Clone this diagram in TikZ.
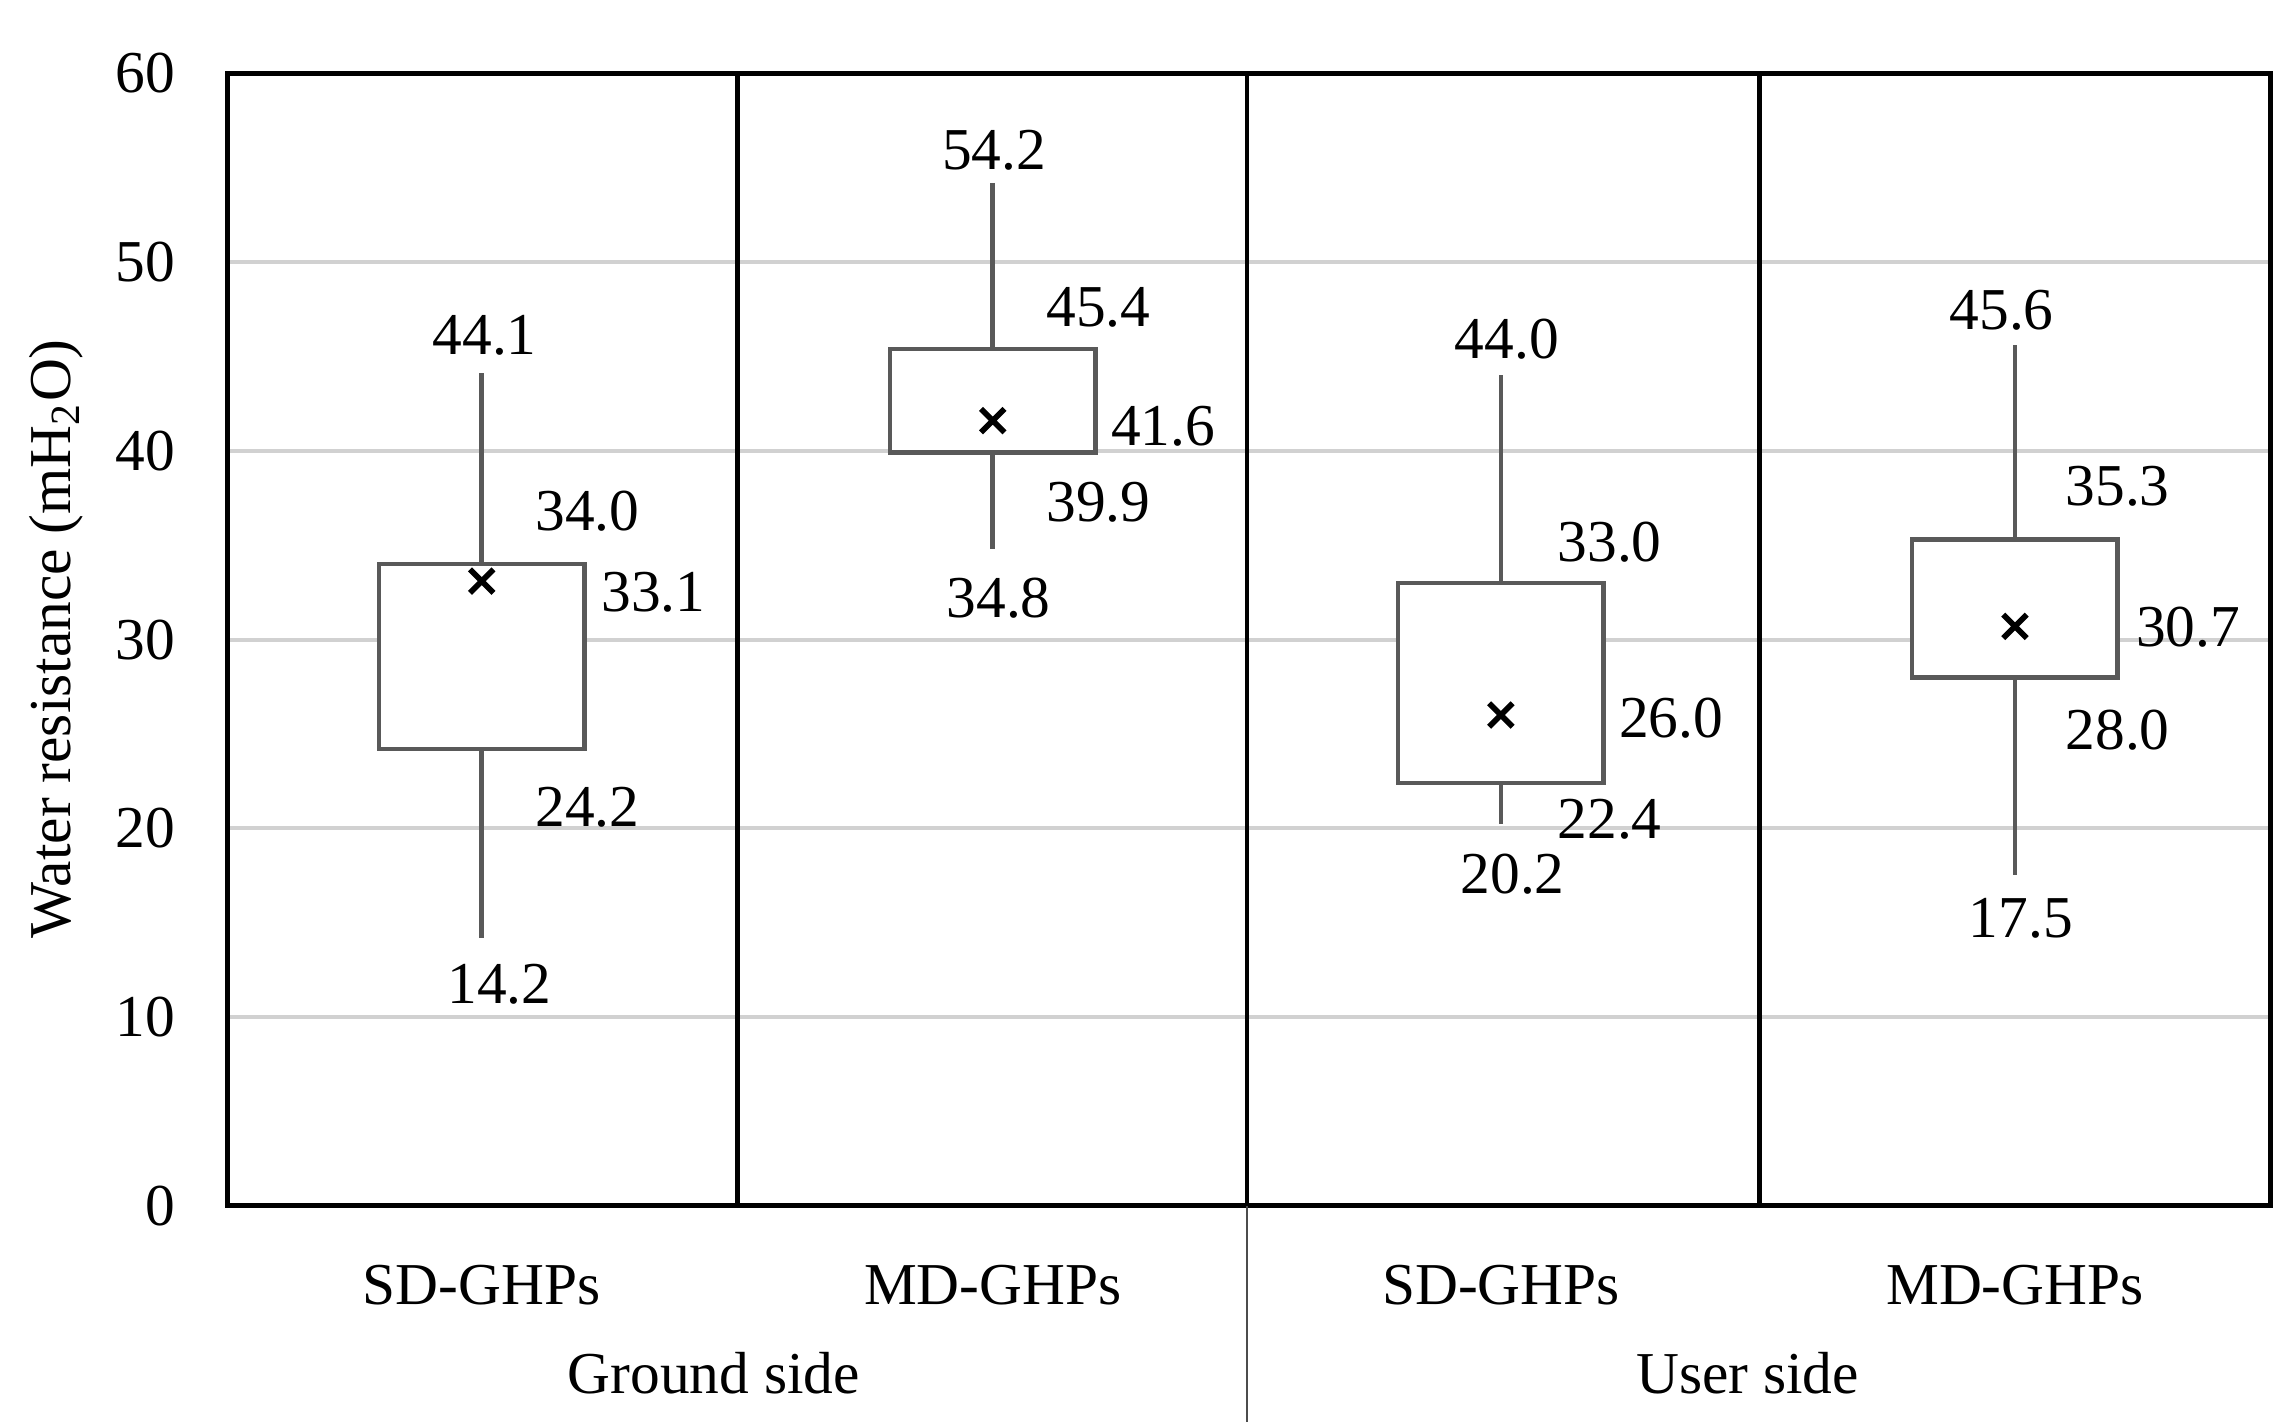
\documentclass[tikz,border=0pt]{standalone}
\usepackage{fontspec}
\setmainfont{Liberation Serif}
\begin{document}
\begin{tikzpicture}[x=0.01cm,y=-0.01cm,
  lbl/.style={font=\fontsize{11.5}{12}\selectfont,inner sep=0pt},
  boxs/.style={draw=black!65,line width=0.9pt,fill=white},
  whisk/.style={draw=black!65,line width=0.9pt},
  grid/.style={draw=black!18,line width=0.8pt},
  mean/.style={line width=1.1pt}]
\useasboundingbox (0,0) rectangle (1560,970);
% grid
\foreach \y in {178.5,307,435.5,564,692.5} \draw[grid] (155,\y) -- (1546,\y);
% frame
\draw[line width=0.9pt] (155,50) rectangle (1546,821);
\foreach \x in {502,1198} \draw[line width=0.9pt] (\x,50) -- (\x,821);
\draw[line width=0.9pt] (849,50) -- (849,821);
\draw[black!70,line width=0.5pt] (849,821) -- (849,968);
% y ticks
\foreach \v/\y in {0/821,10/692.5,20/564,30/435.5,40/307,50/178.5,60/50}
  \node[lbl,anchor=east] (t\v) at (120,\y) {\v};
\node[lbl,rotate=90] (ylab) at (38,435) {Water resistance (mH\textsubscript{2}O)};
% categories
\node[lbl] (c1) at (328,875) {SD-GHPs};
\node[lbl] (c2) at (676,875) {MD-GHPs};
\node[lbl] (c3) at (1022,875) {SD-GHPs};
\node[lbl] (c4) at (1372,875) {MD-GHPs};
\node[lbl] (g1) at (486,935) {Ground side};
\node[lbl] (g2) at (1190,935) {User side};
% box plots: cx, hw, max, q3, q1, min, mean
\foreach \cx/\mx/\qt/\qb/\mn/\me in {328/254.3/384.1/510/638.5/395.7, 676/124.5/237.6/308.3/373.8/286.4, 1022/255.6/397/533.2/561.4/486.9, 1372/235/367.4/461.2/596.1/426.5}{
  \draw[whisk] (\cx,\mx) -- (\cx,\qt);
  \draw[whisk] (\cx,\qb) -- (\cx,\mn);
  \draw[boxs] (\cx-70,\qt) rectangle (\cx+70,\qb);
  \draw[mean] (\cx-8,\me-8) -- (\cx+8,\me+8) (\cx-8,\me+8) -- (\cx+8,\me-8);
}
% labels
\node[lbl] (a1) at (330,228) {44.1};
\node[lbl] (a2) at (400,348) {34.0};
\node[lbl] (a3) at (445,403) {33.1};
\node[lbl] (a4) at (400,550) {24.2};
\node[lbl] (a5) at (340,670) {14.2};
\node[lbl] (b1) at (677,102) {54.2};
\node[lbl] (b2) at (748,209) {45.4};
\node[lbl] (b3) at (792,290) {41.6};
\node[lbl] (b4) at (748,342) {39.9};
\node[lbl] (b5) at (680,407) {34.8};
\node[lbl] (d1) at (1026,231) {44.0};
\node[lbl] (d2) at (1096,369) {33.0};
\node[lbl] (d3) at (1138,489) {26.0};
\node[lbl] (d4) at (1096,558) {22.4};
\node[lbl] (d5) at (1030,595) {20.2};
\node[lbl] (e1) at (1363,211) {45.6};
\node[lbl] (e2) at (1442,331) {35.3};
\node[lbl] (e3) at (1490,427) {30.7};
\node[lbl] (e4) at (1442,497) {28.0};
\node[lbl] (e5) at (1376,625) {17.5};
\end{tikzpicture}
\end{document}
